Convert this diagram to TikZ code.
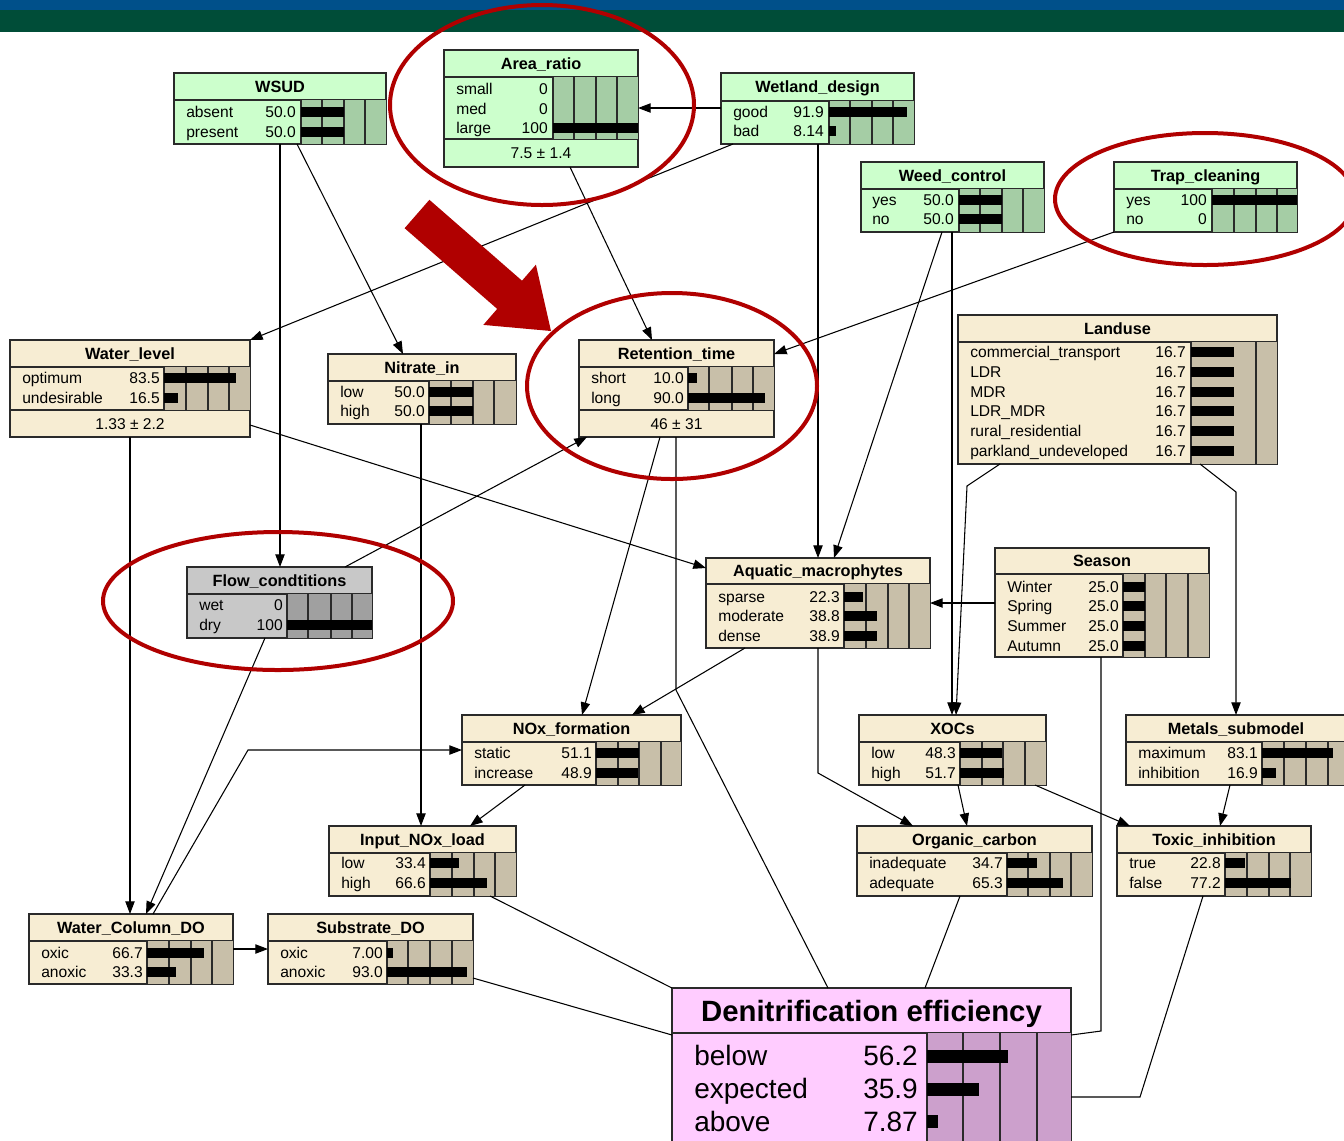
\documentclass[tikz,border=0pt]{standalone}
\usepackage{fontspec}
\setmainfont{Liberation Sans}
\usetikzlibrary{fit,arrows.meta}
\definecolor{gbg}{HTML}{CCFFCC}
\definecolor{gbar}{HTML}{A5CDA5}
\definecolor{bbg}{HTML}{F7EDD3}
\definecolor{bbar}{HTML}{C8BFA9}
\definecolor{greybg}{HTML}{C8C8C8}
\definecolor{greybar}{HTML}{A0A0A0}
\definecolor{pbg}{HTML}{FFCCFF}
\definecolor{pbar}{HTML}{CCA0CC}
\definecolor{bord}{HTML}{2A2A2A}
\definecolor{hl}{HTML}{B00000}
\definecolor{topblue}{HTML}{00508A}
\definecolor{topgreen}{HTML}{004D38}
% box: name, x1, y1, x2, y2, fill, title divider y
\newcommand\nbox[7]{%
  \node[fit={(#2,#3) (#4,#5)}, inner sep=0pt, outer sep=0pt, draw=bord, line width=0.8pt, fill=#6] (#1) {};
  \draw[bord, line width=0.8pt] (#2,#7) -- (#4,#7);}
% bar area: x1, y1, x2, y2, fill, dividers
\newcommand\barea[6]{%
  \fill[fill=#5] (#1,#2) rectangle (#3,#4);
  \draw[bord, line width=0.8pt] (#1,#2) -- (#1,#4);
  \foreach \dd in {#6} {\draw[bord, line width=0.8pt] (\dd,#2) -- (\dd,#4);}}
% horizontal bar: x0, width, percent, y
\newcommand\hb[4]{\fill[black] (#1,#4-5) rectangle ({#1+#2*#3/100},#4+5);}
\newcommand\hbig[4]{\fill[black] (#1,#4-6.5) rectangle ({#1+#2*#3/100},#4+6.5);}
% title, row, mean
\newcommand\ttl[3]{\node[ttlf, anchor=base] at (#1,#2+5.8) {#3};}
\newcommand\rw[5]{\node[rowf, anchor=base west] at (#1,#3+5.6) {#4};\node[rowf, anchor=base east] at (#2,#3+5.6) {#5};}
\newcommand\mean[3]{\node[rowf, anchor=base] at (#1,#2+5.6) {#3};}
\newcommand\hdiv[3]{\draw[bord, line width=0.8pt] (#1,#3) -- (#2,#3);}
\begin{document}
\begin{tikzpicture}[x=0.75pt,y=-0.75pt,
  link/.style={line width=0.8pt,-{Triangle[length=9.5pt,width=7pt]}},
  plain/.style={line width=0.8pt},
  rowf/.style={font=\fontsize{11.7}{13}\selectfont, inner sep=0pt},
  ttlf/.style={font=\fontsize{12.2}{14}\selectfont\bfseries, inner sep=0pt},
  bigt/.style={font=\fontsize{22}{26}\selectfont\bfseries, inner sep=0pt},
  bigr/.style={font=\fontsize{21}{24}\selectfont, inner sep=0pt},
  hlring/.style={draw=hl, line width=3pt},
]
\fill[white] (0,0) rectangle (1344,1140);
\useasboundingbox (0,0) rectangle (1344,1140);
\fill[topblue] (0,0) rectangle (1344,10);
\fill[topgreen] (0,10) rectangle (1344,32);

% ---------------- nodes ----------------
% WSUD
\nbox{WSUD}{174}{73}{386}{144}{gbg}{100}
\barea{301}{100}{386}{144}{gbar}{322,344,365}
\ttl{280}{86.5}{WSUD}
\rw{186}{296}{112}{absent}{50.0}\hb{301}{85}{50}{112}
\rw{186}{296}{132}{present}{50.0}\hb{301}{85}{50}{132}

% Area_ratio
\nbox{Area}{444}{50}{638}{167}{gbg}{77}
\hdiv{444}{638}{139}
\barea{553}{77}{638}{139}{gbar}{574,596,617}
\ttl{541}{63.5}{Area\_ratio}
\rw{456}{548}{89}{small}{0}
\rw{456}{548}{109}{med}{0}
\rw{456}{548}{128}{large}{100}\hb{553}{85}{100}{128}
\mean{541}{153}{7.5 ± 1.4}

% Wetland_design
\nbox{Wetland}{721}{73}{914}{144}{gbg}{101}
\barea{829}{101}{914}{144}{gbar}{850,872,893}
\ttl{817.5}{87}{Wetland\_design}
\rw{733}{824}{112}{good}{91.9}\hb{829}{85}{91.9}{112}
\rw{733}{824}{131}{bad}{8.14}\hb{829}{85}{8.14}{131}

% Weed_control
\nbox{Weed}{861}{162}{1044}{232}{gbg}{189}
\barea{959}{189}{1044}{232}{gbar}{980,1002,1023}
\ttl{952.5}{175.5}{Weed\_control}
\rw{872}{954}{200}{yes}{50.0}\hb{959}{85}{50}{200}
\rw{872}{954}{219}{no}{50.0}\hb{959}{85}{50}{219}

% Trap_cleaning
\nbox{Trap}{1114}{162}{1297}{232}{gbg}{189}
\barea{1212}{189}{1297}{232}{gbar}{1234,1256,1277}
\ttl{1205.5}{175.5}{Trap\_cleaning}
\rw{1126}{1207}{200}{yes}{100}\hb{1212}{85}{100}{200}
\rw{1126}{1207}{219}{no}{0}

% Water_level
\nbox{WaterLevel}{10}{340}{250}{437}{bbg}{367}
\hdiv{10}{250}{410}
\barea{164}{367}{250}{410}{bbar}{186,208,229}
\ttl{130}{353.5}{Water\_level}
\rw{22}{160}{378}{optimum}{83.5}\hb{164}{86}{83.5}{378}
\rw{22}{160}{398}{undesirable}{16.5}\hb{164}{86}{16.5}{398}
\mean{130}{423.5}{1.33 ± 2.2}

% Nitrate_in
\nbox{Nitrate}{328}{354}{516}{424}{bbg}{381}
\barea{429}{381}{516}{424}{bbar}{451,473,494}
\ttl{422}{367.5}{Nitrate\_in}
\rw{340}{425}{392}{low}{50.0}\hb{429}{87}{50}{392}
\rw{340}{425}{411}{high}{50.0}\hb{429}{87}{50}{411}

% Retention_time
\nbox{Retention}{579}{340}{774}{437}{bbg}{367}
\hdiv{579}{774}{410}
\barea{688}{367}{774}{410}{bbar}{709,732,753}
\ttl{676.5}{353.5}{Retention\_time}
\rw{591}{684}{378}{short}{10.0}\hb{688}{86}{10}{378}
\rw{591}{684}{398}{long}{90.0}\hb{688}{86}{90}{398}
\mean{676.5}{423.5}{46 ± 31}

% Landuse
\nbox{Landuse}{958}{315}{1277}{464}{bbg}{342}
\barea{1191}{342}{1277}{464}{bbar}{1256}
\ttl{1117.5}{328.5}{Landuse}
\rw{970}{1186}{352}{commercial\_transport}{16.7}\hb{1191}{86}{50}{352}
\rw{970}{1186}{372}{LDR}{16.7}\hb{1191}{86}{50}{372}
\rw{970}{1186}{392}{MDR}{16.7}\hb{1191}{86}{50}{392}
\rw{970}{1186}{411}{LDR\_MDR}{16.7}\hb{1191}{86}{50}{411}
\rw{970}{1186}{431}{rural\_residential}{16.7}\hb{1191}{86}{50}{431}
\rw{970}{1186}{451}{parkland\_undeveloped}{16.7}\hb{1191}{86}{50}{451}

% Flow_condtitions
\nbox{Flow}{187}{567}{372}{638}{greybg}{594}
\barea{287}{594}{372}{638}{greybar}{308,331,352}
\ttl{279.5}{580.5}{Flow\_condtitions}
\rw{199}{283}{605}{wet}{0}
\rw{199}{283}{625}{dry}{100}\hb{287}{85}{100}{625}

% Aquatic_macrophytes
\nbox{Aquatic}{706}{558}{930}{648}{bbg}{584}
\barea{844}{584}{930}{648}{bbar}{866,888,909}
\ttl{818}{571}{Aquatic\_macrophytes}
\rw{718}{840}{597}{sparse}{22.3}\hb{844}{86}{22.3}{597}
\rw{718}{840}{616}{moderate}{38.8}\hb{844}{86}{38.8}{616}
\rw{718}{840}{636}{dense}{38.9}\hb{844}{86}{38.9}{636}

% Season
\nbox{Season}{995}{548}{1209}{657}{bbg}{574}
\barea{1123}{574}{1209}{657}{bbar}{1145,1166,1188}
\ttl{1102}{561}{Season}
\rw{1007}{1119}{587}{Winter}{25.0}\hb{1123}{86}{25}{587}
\rw{1007}{1119}{606}{Spring}{25.0}\hb{1123}{86}{25}{606}
\rw{1007}{1119}{626}{Summer}{25.0}\hb{1123}{86}{25}{626}
\rw{1007}{1119}{646}{Autumn}{25.0}\hb{1123}{86}{25}{646}

% NOx_formation
\nbox{NOx}{462}{715}{681}{785}{bbg}{742}
\barea{596}{742}{681}{785}{bbar}{618,639,661}
\ttl{571.5}{728.5}{NOx\_formation}
\rw{474}{592}{753}{static}{51.1}\hb{596}{85}{51.1}{753}
\rw{474}{592}{773}{increase}{48.9}\hb{596}{85}{48.9}{773}

% XOCs
\nbox{XOCs}{859}{715}{1046}{785}{bbg}{742}
\barea{960}{742}{1046}{785}{bbar}{982,1003,1025}
\ttl{952.5}{728.5}{XOCs}
\rw{871}{956}{753}{low}{48.3}\hb{960}{86}{48.3}{753}
\rw{871}{956}{773}{high}{51.7}\hb{960}{86}{51.7}{773}

% Metals_submodel
\nbox{Metals}{1126}{715}{1347}{785}{bbg}{742}
\barea{1262}{742}{1347}{785}{bbar}{1284,1306,1328}
\ttl{1236}{728.5}{Metals\_submodel}
\rw{1138}{1258}{753}{maximum}{83.1}\hb{1262}{85}{83.1}{753}
\rw{1138}{1258}{773}{inhibition}{16.9}\hb{1262}{85}{16.9}{773}

% Input_NOx_load
\nbox{InNOx}{329}{826}{516}{896}{bbg}{853}
\barea{430}{853}{516}{896}{bbar}{452,474,495}
\ttl{422.5}{839.5}{Input\_NOx\_load}
\rw{341}{426}{863}{low}{33.4}\hb{430}{86}{33.4}{863}
\rw{341}{426}{883}{high}{66.6}\hb{430}{86}{66.6}{883}

% Organic_carbon
\nbox{Organic}{857}{826}{1092}{896}{bbg}{853}
\barea{1007}{853}{1092}{896}{bbar}{1028,1050,1071}
\ttl{974.5}{839.5}{Organic\_carbon}
\rw{869}{1003}{863}{inadequate}{34.7}\hb{1007}{85}{34.7}{863}
\rw{869}{1003}{883}{adequate}{65.3}\hb{1007}{85}{65.3}{883}

% Toxic_inhibition
\nbox{Toxic}{1117}{826}{1311}{896}{bbg}{853}
\barea{1225}{853}{1311}{896}{bbar}{1247,1269,1290}
\ttl{1214}{839.5}{Toxic\_inhibition}
\rw{1129}{1221}{863}{true}{22.8}\hb{1225}{86}{22.8}{863}
\rw{1129}{1221}{883}{false}{77.2}\hb{1225}{86}{77.2}{883}

% Water_Column_DO
\nbox{WCDO}{29}{914}{233}{984}{bbg}{941}
\barea{147}{941}{233}{984}{bbar}{169,191,212}
\ttl{131}{927.5}{Water\_Column\_DO}
\rw{41}{143}{953}{oxic}{66.7}\hb{147}{86}{66.7}{953}
\rw{41}{143}{972}{anoxic}{33.3}\hb{147}{86}{33.3}{972}

% Substrate_DO
\nbox{Substrate}{268}{914}{473}{984}{bbg}{941}
\barea{387}{941}{473}{984}{bbar}{408,430,452}
\ttl{370.5}{927.5}{Substrate\_DO}
\rw{280}{383}{953}{oxic}{7.00}\hb{387}{86}{7}{953}
\rw{280}{383}{972}{anoxic}{93.0}\hb{387}{86}{93}{972}

% Denitrification efficiency
\nbox{Denit}{672}{988}{1071}{1160}{pbg}{1033}
\barea{927}{1033}{1071}{1160}{pbar}{963,1000,1037}
\node[bigt, anchor=base] at (871.5,1021) {Denitrification efficiency};
\node[bigr, anchor=base west] at (694,1065) {below};
\node[bigr, anchor=base east] at (918,1065) {56.2};
\node[bigr, anchor=base west] at (694,1098) {expected};
\node[bigr, anchor=base east] at (918,1098) {35.9};
\node[bigr, anchor=base west] at (694,1131) {above};
\node[bigr, anchor=base east] at (918,1131) {7.87};
\hbig{927}{144}{56.2}{1056}
\hbig{927}{144}{35.9}{1089}
\hbig{927}{144}{7.87}{1121}

% ---------------- connectors ----------------
\draw[link] (280,0 |- WSUD.south) -- (280,0 |- Flow.north);
\draw[link] (297,0 |- WSUD.south) -- (403,0 |- Nitrate.north);
\draw[link] (Wetland.west |- 0,108) -- (Area.east |- 0,108);
\draw[link] (733,0 |- Wetland.south) -- (WaterLevel.north east);
\draw[link] (818,0 |- Wetland.south) -- (818,0 |- Aquatic.north);
\draw[link] (570,0 |- Area.south) -- (652,0 |- Retention.north);
\draw[link] (Trap.south west) -- (Retention.east |- 0,354);
\draw[link] (942,0 |- Weed.south) -- (834,0 |- Aquatic.north);
\draw[link] (952,0 |- Weed.south) -- (952,0 |- XOCs.north);
\draw[link] (1000,0 |- Landuse.south) -- (967,486) -- (956,0 |- XOCs.north);
\draw[link] (1200,0 |- Landuse.south) -- (1236,492) -- (1236,0 |- Metals.north);
\draw[link] (WaterLevel.east |- 0,425) -- (Aquatic.west |- 0,568);
\draw[link] (130,0 |- WaterLevel.south) -- (130,0 |- WCDO.north);
\draw[link] (421,0 |- Nitrate.south) -- (421,0 |- InNOx.north);
\draw[link] (660,0 |- Retention.south) -- (582,0 |- NOx.north);
\draw[plain] (676,0 |- Retention.south) -- (676,690) -- (828,0 |- Denit.north);
\draw[link] (345,0 |- Flow.north) -- (587,0 |- Retention.south);
\draw[link] (265,0 |- Flow.south) -- (146,0 |- WCDO.north);
\draw[link] (745,0 |- Aquatic.south) -- (632,0 |- NOx.north);
\draw[link] (818,0 |- Aquatic.south) -- (818,773) -- (913,0 |- Organic.north);
\draw[link] (Season.west |- 0,603) -- (Aquatic.east |- 0,603);
\draw[plain] (1101,0 |- Season.south) -- (1101,1031) -- (Denit.east |- 0,1035);
\draw[link] (525,0 |- NOx.south) -- (470,0 |- InNOx.north);
\draw[link] (153,0 |- WCDO.north) -- (248,750) -- (NOx.west |- 0,750);
\draw[link] (WCDO.east |- 0,949) -- (Substrate.west |- 0,949);
\draw[plain] (490,0 |- InNOx.south) -- (Denit.north west);
\draw[plain] (Substrate.east |- 0,978) -- (Denit.west |- 0,1035);
\draw[plain] (960,0 |- Organic.south) -- (925,0 |- Denit.north);
\draw[link] (958,0 |- XOCs.south) -- (967,0 |- Organic.north);
\draw[link] (1035,0 |- XOCs.south) -- (1130,0 |- Toxic.north);
\draw[link] (1230,0 |- Metals.south) -- (1220,0 |- Toxic.north);
\draw[plain] (1203,0 |- Toxic.south) -- (1140,1097) -- (Denit.east |- 0,1097);

% ---------------- highlights ----------------
\draw[hlring] (542,105) ellipse [x radius=152, y radius=100];
\draw[hlring] (1205,199) ellipse [x radius=150, y radius=66];
\draw[hlring] (672,386) ellipse [x radius=145, y radius=93];
\draw[hlring] (278,601) ellipse [x radius=175, y radius=69];
\fill[hl] (404.6,228.2) -- (497.2,308.9) -- (483.3,324.9) -- (551,331) -- (535.9,264.7) -- (522.0,280.7) -- (429.4,199.8) -- cycle;
\end{tikzpicture}
\end{document}
